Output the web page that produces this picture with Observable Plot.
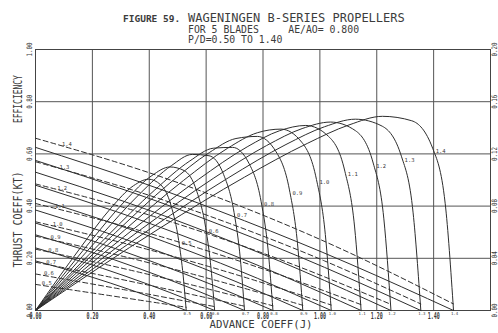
<!DOCTYPE html>
<html><head><meta charset="utf-8">
<script src="https://cdn.jsdelivr.net/npm/d3@7"></script>
<script src="https://cdn.jsdelivr.net/npm/@observablehq/plot@0.6"></script>
<style>
body{margin:0;background:#fff;width:498px;height:333px;overflow:hidden}
#title{position:relative;height:46px;font-family:"DejaVu Sans Mono",monospace;color:#3c3c3c}
#title span{position:absolute;white-space:pre;line-height:normal}
</style></head><body>
<div id="title">
<span style="left:123px;top:13px;font-size:9.5px;font-weight:bold">FIGURE 59.</span>
<span style="left:188px;top:11px;font-size:12px">WAGENINGEN B-SERIES PROPELLERS</span>
<span style="left:188px;top:24px;font-size:9.8px">FOR 5 BLADES     AE/AO= 0.800</span>
<span style="left:188px;top:34px;font-size:9.8px">P/D=0.50 TO 1.40</span>
</div>
<div id="chart"></div>
<script>
// ---- data ----
const pitchRatios = [0.5, 0.6, 0.7, 0.8, 0.9, 1.0, 1.1, 1.2, 1.3, 1.4];

// advance coefficient J of the points read on the KT and KQ curves
const ktqJ = [
  [0, 0.1325, 0.265, 0.3975, 0.53],
  [0, 0.1575, 0.315, 0.4725, 0.63],
  [0, 0.1838, 0.3675, 0.5513, 0.735],
  [0, 0.2088, 0.4175, 0.6263, 0.835],
  [0, 0.235, 0.47, 0.705, 0.94],
  [0, 0.26, 0.52, 0.78, 1.04],
  [0, 0.2863, 0.5725, 0.8588, 1.145],
  [0, 0.3125, 0.625, 0.9375, 1.25],
  [0, 0.3388, 0.6775, 1.0163, 1.355],
  [0, 0.3675, 0.735, 1.1025, 1.47]
];
const thrustKT = [
  [0.19, 0.1496, 0.1045, 0.0546, 0],
  [0.24, 0.189, 0.132, 0.069, 0],
  [0.29, 0.2284, 0.1595, 0.0834, 0],
  [0.335, 0.2638, 0.1843, 0.0963, 0],
  [0.385, 0.3032, 0.2118, 0.1107, 0],
  [0.43, 0.3386, 0.2365, 0.1236, 0],
  [0.48, 0.378, 0.264, 0.138, 0],
  [0.53, 0.4174, 0.2915, 0.1524, 0],
  [0.575, 0.4528, 0.3163, 0.1653, 0],
  [0.625, 0.4922, 0.3438, 0.1797, 0]
];
const torqueKQ = [
  [0.020, 0.0156, 0.0113, 0.0069, 0.0025],
  [0.028, 0.0219, 0.0158, 0.0094, 0.0030],
  [0.037, 0.0291, 0.0208, 0.0122, 0.0033],
  [0.047, 0.0371, 0.0266, 0.0154, 0.0036],
  [0.057, 0.0453, 0.0326, 0.0188, 0.0040],
  [0.068, 0.0544, 0.0393, 0.0225, 0.0042],
  [0.082, 0.0661, 0.0479, 0.0274, 0.0045],
  [0.097, 0.0788, 0.0573, 0.0326, 0.0047],
  [0.114, 0.0925, 0.0671, 0.0380, 0.0050],
  [0.132, 0.1079, 0.0787, 0.0444, 0.0050]
];
// efficiency curves
const etaJ = [
  [0, 0.159, 0.265, 0.3445, 0.3975, 0.4399, 0.477, 0.5035, 0.5194, 0.53],
  [0, 0.189, 0.315, 0.4095, 0.4725, 0.5229, 0.567, 0.5985, 0.6174, 0.63],
  [0, 0.2205, 0.3675, 0.4778, 0.5513, 0.6101, 0.6615, 0.6983, 0.7203, 0.735],
  [0, 0.2505, 0.4175, 0.5428, 0.6263, 0.6931, 0.7515, 0.7933, 0.8183, 0.835],
  [0, 0.282, 0.47, 0.611, 0.705, 0.7802, 0.846, 0.893, 0.9212, 0.94],
  [0, 0.312, 0.52, 0.676, 0.78, 0.8632, 0.936, 0.988, 1.0192, 1.04],
  [0, 0.3435, 0.5725, 0.7443, 0.8588, 0.9504, 1.0305, 1.0878, 1.1221, 1.145],
  [0, 0.375, 0.625, 0.8125, 0.9375, 1.0375, 1.125, 1.1875, 1.225, 1.25],
  [0, 0.4065, 0.6775, 0.8808, 1.0163, 1.1247, 1.2195, 1.2873, 1.3279, 1.355],
  [0, 0.441, 0.735, 0.9555, 1.1025, 1.2201, 1.323, 1.3965, 1.4406, 1.47]
];
const efficiency = [
  [0, 0.242, 0.392, 0.478, 0.503, 0.482, 0.401, 0.268, 0.132, 0],
  [0, 0.259, 0.420, 0.517, 0.550, 0.536, 0.457, 0.317, 0.160, 0],
  [0, 0.275, 0.448, 0.555, 0.598, 0.593, 0.521, 0.375, 0.198, 0],
  [0, 0.283, 0.460, 0.573, 0.622, 0.625, 0.562, 0.418, 0.228, 0],
  [0, 0.299, 0.486, 0.605, 0.659, 0.667, 0.608, 0.462, 0.258, 0],
  [0, 0.307, 0.498, 0.622, 0.681, 0.695, 0.645, 0.502, 0.291, 0],
  [0, 0.311, 0.502, 0.627, 0.689, 0.709, 0.667, 0.534, 0.320, 0],
  [0, 0.314, 0.506, 0.632, 0.697, 0.722, 0.689, 0.565, 0.351, 0],
  [0, 0.315, 0.508, 0.636, 0.704, 0.733, 0.706, 0.589, 0.374, 0],
  [0, 0.318, 0.511, 0.640, 0.711, 0.744, 0.727, 0.622, 0.411, 0]
];

const xTicks = [0, 0.2, 0.4, 0.6, 0.8, 1.0, 1.2, 1.4];
const xTickLabels = ["0.00", "0.20", "0.40", "0.60", "0.80", "1.00", "1.20", "1.40"];
const leftTicks = [0, 0.2, 0.4, 0.6, 0.8, 1.0];
const leftTickLabels = ["0.00", "0.20", "0.40", "0.60", "0.80", "1.00"];
const rightTickLabels = ["0.00", "0.04", "0.08", "0.12", "0.16", "0.20"];
const kqAxisMax = 0.20;   // right axis (KQ) full scale
const leftAxisMax = 1.0;  // left axis (KT, efficiency) full scale

// ---- tables for the library ----
const kqToLeft = leftAxisMax / kqAxisMax;
const ktq = [];
pitchRatios.forEach((pd, i) => ktqJ[i].forEach((J, k) =>
  ktq.push({pd, J, kt: thrustKT[i][k], kqy: torqueKQ[i][k] * kqToLeft})));
const eta = [];
pitchRatios.forEach((pd, i) => etaJ[i].forEach((J, k) =>
  eta.push({pd, J, eta: efficiency[i][k]})));
const pdLabel = d => d.toFixed(1);
const etaLabels = pitchRatios.map((pd, i) => ({pd, J: etaJ[i][7], eta: efficiency[i][7]}));
const kqLabels = pitchRatios.map((pd, i) => ({pd,
  J: ktqJ[i][1] * 0.3,
  y: (torqueKQ[i][0] + (torqueKQ[i][1] - torqueKQ[i][0]) * 0.3) * kqToLeft}));
const zeroLabels = pitchRatios.map((pd, i) => ({pd, J: ktqJ[i][4]}));

const ink = "#2e2e2e";
const svg = Plot.plot({
  width: 498, height: 287,
  marginTop: 3, marginBottom: 23, marginLeft: 35, marginRight: 8,
  x: {domain: [0, 1.6], axis: null},
  y: {domain: [0, leftAxisMax], axis: null},
  style: {background: "#fff", color: "#3a3a3a", fontFamily: "DejaVu Sans Mono, monospace", overflow: "visible"},
  marks: [
    Plot.gridX([0.2, 0.4, 0.6, 0.8, 1.0, 1.2, 1.4], {stroke: "#555", strokeOpacity: 1, strokeWidth: 1}),
    Plot.gridY([0.2, 0.4, 0.6, 0.8], {stroke: "#555", strokeOpacity: 1, strokeWidth: 1}),
    Plot.frame({stroke: "#444", strokeWidth: 1}),
    Plot.line(ktq, {x: "J", y: "kt", z: "pd", curve: "natural", stroke: ink, strokeWidth: 1}),
    Plot.line(ktq, {x: "J", y: "kqy", z: "pd", curve: "natural", stroke: ink, strokeWidth: 1, strokeDasharray: "5,3"}),
    Plot.line(eta, {x: "J", y: "eta", z: "pd", curve: "monotone-x", stroke: ink, strokeWidth: 1}),
    // tick labels and titles (start-anchored, then condensed to the reference widths)
    Plot.text(xTickLabels, {x: (d, i) => xTicks[i], frameAnchor: "bottom", dx: -6, dy: 8.5, textAnchor: "start", text: d => d, fontSize: 8, fontWeight: "bold"}),
    Plot.text(leftTickLabels, {y: (d, i) => leftTicks[i], frameAnchor: "left", dx: -5.5, dy: 7, rotate: -90, textAnchor: "start", text: d => d, fontSize: 7.5}),
    Plot.text(rightTickLabels, {y: (d, i) => leftTicks[i], frameAnchor: "right", dx: 4.5, dy: 7, rotate: -90, textAnchor: "start", text: d => d, fontSize: 7.5}),
    Plot.text(["ADVANCE COEFF(J)"], {x: 0.612, frameAnchor: "bottom", dy: 17.5, textAnchor: "start", text: d => d, fontSize: 11}),
    Plot.text(["EFFICIENCY"], {y: 0.718, frameAnchor: "left", dx: -17.5, rotate: -90, textAnchor: "start", text: d => d, fontSize: 12}),
    Plot.text(["THRUST COEFF(KT)"], {y: 0.165, frameAnchor: "left", dx: -17.5, rotate: -90, textAnchor: "start", text: d => d, fontSize: 12}),
    // curve labels
    Plot.text(etaLabels, {x: "J", y: "eta", text: d => pdLabel(d.pd), dx: 3, dy: 3, textAnchor: "start", fontSize: 5.5}),
    Plot.text(kqLabels, {x: "J", y: "y", text: d => pdLabel(d.pd), dy: -3, fontSize: 5.5}),
    Plot.text(zeroLabels, {x: "J", y: 0, text: d => pdLabel(d.pd), dx: 1, dy: 3, fontSize: 4})
  ]
});
document.getElementById("chart").appendChild(svg);

// condense the plotter-style lettering to the widths seen in the reference
const groups = svg.querySelectorAll('g[aria-label="text"]');
const lengths = [12, 14, 14, 103, 48, 96];
lengths.forEach((len, gi) => {
  const g = groups[gi];
  if (!g) return;
  g.querySelectorAll("text").forEach(t => {
    t.setAttribute("textLength", len);
    t.setAttribute("lengthAdjust", "spacingAndGlyphs");
  });
});
</script>
</body></html>
